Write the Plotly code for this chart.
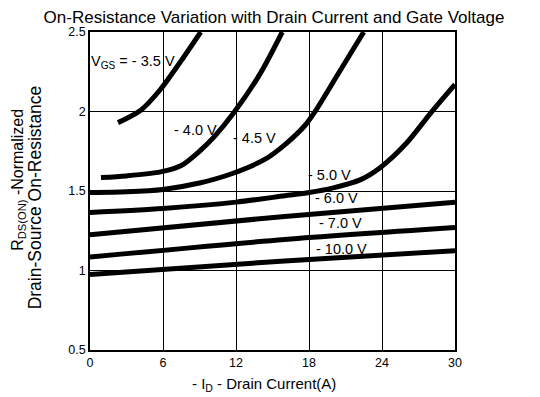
import plotly.graph_objects as go

title = "On-Resistance Variation with Drain Current and Gate Voltage"

i_35 = [2.3, 4.2, 5.8, 7.5, 9.1]
r_35 = [1.93, 2.01, 2.14, 2.32, 2.5]

i_40 = [0.9, 3.0, 5.8, 7.5, 9.0, 10.2, 11.8, 14.0, 15.8]
r_40 = [1.585, 1.595, 1.62, 1.66, 1.75, 1.84, 1.99, 2.24, 2.5]

i_45 = [0, 3, 6, 9, 11.7, 14.4, 16, 17.7, 18.5, 20.5, 22.5]
r_45 = [1.49, 1.495, 1.51, 1.55, 1.61, 1.70, 1.79, 1.915, 2.0, 2.25, 2.5]

i_50 = [0, 6, 12, 16, 18, 20, 22.2, 23.9, 26, 28, 30]
r_50 = [1.365, 1.39, 1.43, 1.47, 1.49, 1.52, 1.57, 1.65, 1.80, 1.99, 2.17]

i_60 = [0, 16, 30]
r_60 = [1.225, 1.34, 1.43]

i_70 = [0, 16, 30]
r_70 = [1.085, 1.195, 1.27]

i_100 = [0, 16, 30]
r_100 = [0.975, 1.06, 1.125]

x_ticks = [0, 6, 12, 18, 24, 30]
y_ticks = [0.5, 1, 1.5, 2, 2.5]
y_tick_text = ["0.5", "1", "1.5", "2", "2.5"]

curves = [(i_35, r_35), (i_40, r_40), (i_45, r_45), (i_50, r_50),
          (i_60, r_60), (i_70, r_70), (i_100, r_100)]

labels = [
    ("V<sub>GS</sub> = - 3.5 V", 0.0, 2.31),
    ("- 4.0 V", 6.8, 1.884),
    ("- 4.5 V", 11.7, 1.833),
    ("- 5.0 V", 17.8, 1.60),
    ("- 6.0 V", 18.4, 1.456),
    ("- 7.0 V", 18.7, 1.30),
    ("- 10.0 V", 18.5, 1.135),
]

FONT = "Liberation Sans, Arial, sans-serif"

fig = go.Figure()
for xs, ys in curves:
    fig.add_trace(go.Scatter(x=xs, y=ys, mode="lines",
                             line=dict(color="black", width=5, shape="spline", smoothing=0.8),
                             showlegend=False, hoverinfo="skip"))

for txt, x, y in labels:
    fig.add_annotation(x=x, y=y, text=txt, showarrow=False, xanchor="left", yanchor="middle",
                       font=dict(family=FONT, size=14.5, color="black"), borderpad=0)

# axis titles as annotations for precise placement
fig.add_annotation(x=14.3, xref="x", y=0, yref="paper", yshift=-34, yanchor="middle",
                   text="- I<sub>D</sub> - Drain Current(A)", showarrow=False,
                   font=dict(family=FONT, size=15, color="black"))
fig.add_annotation(x=0, xref="paper", xshift=-71, y=1.57, yref="y", textangle=-90,
                   text="R<sub>DS(ON)</sub> -Normalized", showarrow=False,
                   xanchor="center", yanchor="middle",
                   font=dict(family=FONT, size=16, color="black"))
fig.add_annotation(x=0, xref="paper", xshift=-55, y=1.46, yref="y", textangle=-90,
                   text="Drain-Source On-Resistance", showarrow=False,
                   xanchor="center", yanchor="middle",
                   font=dict(family=FONT, size=17.5, color="black"))

fig.update_layout(
    width=532, height=389,
    margin=dict(l=82, r=85, t=24, b=47, autoexpand=False),
    paper_bgcolor="white", plot_bgcolor="white",
    font=dict(family=FONT, size=12.5, color="black"),
    title=dict(text=title, x=0.5, xanchor="center", xref="container",
               y=1, yanchor="top", yref="container", pad=dict(t=3),
               font=dict(family=FONT, size=17, color="black")),
)
fig.update_xaxes(range=[0, 30], tickvals=x_ticks, showgrid=True, gridcolor="black", gridwidth=1,
                 showline=True, linecolor="black", linewidth=1.5, mirror=True, zeroline=False,
                 ticks="", automargin=False)
fig.update_yaxes(range=[0.5, 2.5], tickvals=y_ticks, ticktext=y_tick_text, showgrid=True,
                 gridcolor="black", gridwidth=1, showline=True, linecolor="black", linewidth=1.5,
                 mirror=True, zeroline=False, ticks="", automargin=False)

fig.write_html("out.html")
